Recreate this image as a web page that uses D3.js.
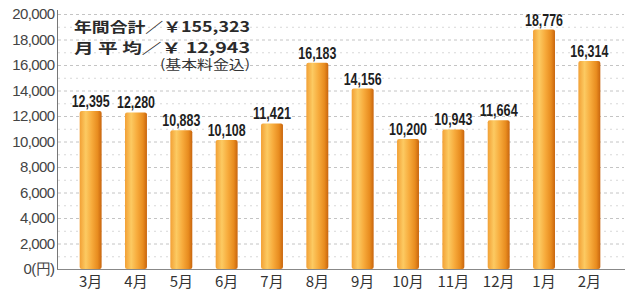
<!DOCTYPE html>
<html><head><meta charset="utf-8">
<script src="https://cdn.jsdelivr.net/npm/d3@7"></script>
<style>body{margin:0;background:#fff}svg{display:block}</style>
</head><body>
<script>
const months = ["3月","4月","5月","6月","7月","8月","9月","10月","11月","12月","1月","2月"];
const values = [12395,12280,10883,10108,11421,16183,14156,10200,10943,11664,18776,16314];
const yTicks = [0,2000,4000,6000,8000,10000,12000,14000,16000,18000,20000];
const gridValues = d3.range(1000, 20001, 1000);
const noteLines = ["年間合計／￥155,323","月 平 均／￥ 12,943"];
const noteSub = "(基本料金込)";

const W = 630, H = 294;
const svg = d3.select("body").append("svg").attr("width", W).attr("height", H);

const x = d3.scaleBand().domain(months).range([57, 623]).paddingInner(0.516).paddingOuter(0.5);
const y = d3.scaleLinear().domain([0, 20000]).range([269, 14]);

const defs = svg.append("defs");
const g = defs.append("linearGradient").attr("id","barg").attr("x1","0").attr("x2","1").attr("y1","0").attr("y2","0");
[[0,"#f2a035"],[0.28,"#fcca62"],[0.55,"#f7ab3c"],[0.82,"#e88c1f"],[1,"#c8650e"]]
  .forEach(([o,c]) => g.append("stop").attr("offset", o).attr("stop-color", c));

// faint gridlines
svg.append("g").selectAll("line").data(gridValues).join("line")
  .attr("x1", 58).attr("x2", 624)
  .attr("y1", d => y(d) + 0.5).attr("y2", d => y(d) + 0.5)
  .attr("stroke", d => d % 2000 === 0 ? "#c4c4c4" : "#d8d8d8")
  .attr("stroke-width", 1)
  .attr("stroke-dasharray", d => d % 2000 === 0 ? "3,3" : "2,4");

// bars
svg.append("g").selectAll("rect").data(values).join("rect")
  .attr("x", (d,i) => x(months[i]))
  .attr("width", x.bandwidth())
  .attr("y", d => y(d))
  .attr("height", d => y(0) - y(d))
  .attr("rx", 2).attr("ry", 2)
  .attr("fill", "url(#barg)");

// value labels
svg.append("g").selectAll("text").data(values).join("text")
  .attr("x", (d,i) => x(months[i]) + x.bandwidth()/2)
  .attr("y", d => y(d) - 4)
  .attr("text-anchor", "middle")
  .attr("font-family", "'Liberation Sans',Arial,sans-serif")
  .attr("font-weight", "bold")
  .attr("font-size", 16)
  .attr("fill", "#1e1e1e")
  .attr("textLength", 38).attr("lengthAdjust", "spacingAndGlyphs")
  .text(d => d3.format(",")(d));

// axes
const yAxis = d3.axisLeft(y).tickValues(yTicks).tickSize(0).tickPadding(3)
  .tickFormat(d => d === 0 ? "0(円)" : d3.format(",")(d));
const ya = svg.append("g").attr("transform", "translate(57.5,0)").call(yAxis);
ya.select(".domain").attr("stroke", "#777").attr("d", "M0,10V269");
ya.selectAll("text").attr("font-family", "'Liberation Sans',Arial,sans-serif")
  .attr("font-size", 15).attr("fill", "#444").attr("letter-spacing", -0.6);

const xAxis = d3.axisBottom(x).tickSize(0).tickPadding(8);
const xa = svg.append("g").attr("transform", "translate(0,269.5)").call(xAxis);
xa.select(".domain").attr("stroke", "#888").attr("d", "M57,0H625");
xa.selectAll("text").attr("font-family", "'Noto Sans CJK JP',sans-serif")
  .attr("font-size", 15).attr("fill", "#333").attr("dy", "0.65em");

// annotation
const note = svg.append("g");
note.selectAll("text.l").data(noteLines).join("text").attr("class","l")
  .attr("x", 74).attr("y", (d,i) => 32 + i*21)
  .attr("font-family", "'Noto Sans CJK JP',sans-serif")
  .attr("font-weight", "bold").attr("font-size", 14).attr("fill", "#2a2a2a")
  .attr("textLength", 176).attr("lengthAdjust", "spacingAndGlyphs")
  .text(d => d);
note.append("text").attr("x", 160).attr("y", 69)
  .attr("font-family", "'Noto Sans CJK JP',sans-serif")
  .attr("font-size", 13).attr("fill", "#333")
  .attr("textLength", 90).attr("lengthAdjust", "spacingAndGlyphs")
  .text(noteSub);
</script>
</body></html>
